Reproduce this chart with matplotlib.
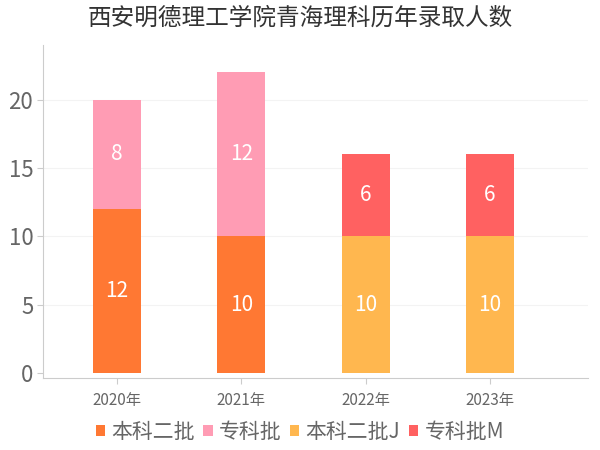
import matplotlib
matplotlib.use("Agg")
import matplotlib.pyplot as plt
from matplotlib.patches import Patch
import numpy as np

plt.rcParams['font.family'] = ['Noto Sans CJK SC', 'DejaVu Sans']

title = "西安明德理工学院青海理科历年录取人数"
years = ["2020年", "2021年", "2022年", "2023年"]
series_names = ["本科二批", "专科批", "本科二批J", "专科批M"]
s_benke2 = [12, 10, 0, 0]
s_zhuanke = [8, 12, 0, 0]
s_benke2j = [0, 0, 10, 10]
s_zhuankem = [0, 0, 6, 6]
colors = ["#FF7833", "#FF9CB4", "#FFB74F", "#FF6161"]
yticks = [0, 5, 10, 15, 20]

fig = plt.figure(figsize=(6, 4.5), dpi=100)
ax = fig.add_axes([43/600, 1-378/450, (588-43)/600, (378-45)/450])

x = np.arange(len(years))
w = 0.386
series = [s_benke2, s_zhuanke, s_benke2j, s_zhuankem]
bottoms = np.zeros(len(years))
for vals, c in zip(series, colors):
    v = np.array(vals, dtype=float)
    ax.bar(x, v, w, bottom=bottoms, color=c, edgecolor='none', zorder=3)
    for xi, vi, bi in zip(x, v, bottoms):
        if vi > 0:
            ax.text(xi, bi + vi/2, f"{int(vi)}", ha='center', va='center',
                    color='white', fontsize=15, zorder=4)
    bottoms = bottoms + v

ax.set_xlim(-0.595, 3.79)
ax.set_ylim(-0.37, 24)
ax.set_xticks(x)
ax.set_xticklabels(years, fontsize=11, color='#666666')
ax.set_yticks(yticks)
ax.set_yticklabels([str(t) for t in yticks], fontsize=16, color='#666666')
ax.tick_params(axis='x', length=4, color='#cccccc', pad=6)
ax.tick_params(axis='y', length=4, color='#cccccc', pad=3)
for t in yticks[1:]:
    ax.axhline(t, color='#f3f3f3', lw=0.8, zorder=1)

for s in ['top', 'right']:
    ax.spines[s].set_visible(False)
ax.spines['left'].set_color('#cccccc')
ax.spines['bottom'].set_color('#cccccc')

fig.text(0.5, 1-18/450, title, ha='center', va='center', fontsize=17, color='#333333')

handles = [Patch(facecolor=c, edgecolor='none') for c in colors]
fig.legend(handles, series_names, loc='center', bbox_to_anchor=(0.5, 1-432/450),
           ncol=4, frameon=False, fontsize=15, handlelength=0.45, handleheight=0.45,
           handletextpad=0.3, columnspacing=0.4, labelcolor='#666666')

fig.savefig("out.png", dpi=100)
